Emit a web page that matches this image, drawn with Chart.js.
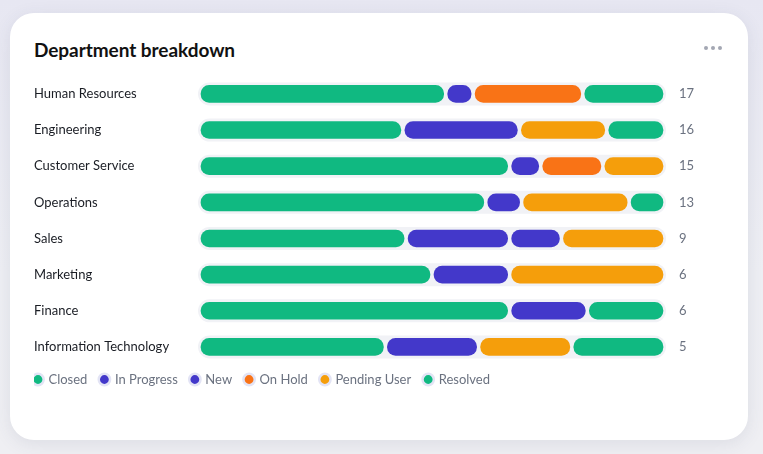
<!DOCTYPE html>
<html>
<head>
<meta charset="utf-8">
<script src="https://cdn.jsdelivr.net/npm/chart.js@4"></script>
<style>
  html, body { margin: 0; padding: 0; }
  body {
    width: 763px; height: 454px; overflow: hidden;
    background: linear-gradient(180deg, #e7e7f2 0%, #eeeff4 60%, #efeff3 100%);
    font-family: Lato, "Open Sans", sans-serif;
  }
  .card {
    position: absolute; left: 10px; top: 13px; width: 738px; height: 427px;
    background: #fff; border-radius: 24px;
    box-shadow: 0 4px 18px rgba(60, 64, 100, 0.10);
  }
  .title {
    position: absolute; left: 24px; top: 25px;
    font-size: 19px; font-weight: 700; color: #111111; letter-spacing: -0.05px;
  }
  .menu { position: absolute; left: 694px; top: 29px; line-height: 4px; }
  .menu span {
    display: inline-block; width: 4px; height: 4px; border-radius: 50%;
    background: #a3a7b3; margin-right: 3px;
  }
  .wrap { position: absolute; left: 24px; top: 49px; width: 666px; height: 339px; }
</style>
</head>
<body>
<div class="card">
  <div class="title">Department breakdown</div>
  <div class="menu"><span></span><span></span><span></span></div>
  <div class="wrap"><canvas id="deptChart"></canvas></div>
</div>
<script>
  const departments = ["Human Resources", "Engineering", "Customer Service", "Operations",
    "Sales", "Marketing", "Finance", "Information Technology"];
  const closed      = [9, 7, 10, 8, 4, 3, 4, 2];
  const inProgress  = [1, 4, 1, 1, 2, 1, 1, 1];
  const newTickets  = [0, 0, 0, 0, 1, 0, 0, 0];
  const onHold      = [4, 0, 2, 0, 0, 0, 0, 0];
  const pendingUser = [0, 3, 2, 3, 2, 2, 0, 1];
  const resolved    = [3, 2, 0, 1, 0, 0, 1, 1];
  const totals      = [17, 16, 15, 13, 9, 6, 6, 5];

  const trackColor = "#f1f2f6";

  // each row is stretched to full width, so turn counts into shares
  const share = (arr) => arr.map((v, i) => (v ? (v / totals[i]) * 100 : null));

  const series = [
    { label: "Closed", data: closed, color: "#10b981" },
    { label: "In Progress", data: inProgress, color: "#4338ca" },
    { label: "New", data: newTickets, color: "#4338ca" },
    { label: "On Hold", data: onHold, color: "#f97316" },
    { label: "Pending User", data: pendingUser, color: "#f59e0b" },
    { label: "Resolved", data: resolved, color: "#10b981" },
  ];

  const trackPlugin = {
    id: "track",
    beforeDatasetsDraw(chart) {
      const { ctx, chartArea, scales } = chart;
      ctx.save();
      ctx.fillStyle = trackColor;
      departments.forEach((d, i) => {
        const y = scales.y.getPixelForValue(i);
        ctx.beginPath();
        ctx.roundRect(chartArea.left - 1, y - 11.5, chartArea.right - chartArea.left + 2, 23, 11.5);
        ctx.fill();
      });
      ctx.restore();
    },
  };

  // pull the legend back to the card's text column
  const legendShift = {
    id: "legendShift",
    afterLayout(chart) {
      chart.legend.left -= 13;
      chart.legend.right -= 13;
      chart.legend.top -= 5;
      chart.legend.bottom -= 5;
    },
  };

  const r = 20;
  new Chart(document.getElementById("deptChart").getContext("2d"), {
    type: "bar",
    data: {
      labels: departments,
      datasets: series.map((s) => ({
        label: s.label,
        data: share(s.data),
        backgroundColor: s.color,
        borderColor: trackColor,
        borderWidth: 2,
        borderSkipped: false,
        borderRadius: { topLeft: r, topRight: r, bottomLeft: r, bottomRight: r },
        barThickness: 21,
        yAxisID: "y",
      })),
    },
    options: {
      indexAxis: "y",
      responsive: true,
      maintainAspectRatio: false,
      animation: false,
      layout: { padding: { top: 1, left: 0, right: 0, bottom: 0 } },
      scales: {
        x: { stacked: true, min: 0, max: 100, display: false },
        y: {
          stacked: true,
          grid: { display: false },
          border: { display: false },
          ticks: {
            crossAlign: "far",
            color: "#1a1d24",
            font: { family: "Lato", size: 13 },
          },
          afterFit(scale) { scale.width = 165; },
        },
        y2: {
          type: "category",
          position: "right",
          labels: totals.map(String),
          offset: true,
          grid: { display: false },
          border: { display: false },
          ticks: {
            padding: 6,
            color: "#6b7280",
            font: { family: "Lato", size: 13 },
          },
          afterFit(scale) { scale.width = 35; },
        },
      },
      plugins: {
        legend: {
          position: "bottom",
          align: "start",
          labels: {
            usePointStyle: true,
            pointStyle: "circle",
            boxWidth: 8,
            boxHeight: 8,
            padding: 13,
            color: "#6b7280",
            font: { family: "Lato", size: 13 },
            generateLabels(chart) {
              const items = Chart.defaults.plugins.legend.labels.generateLabels(chart);
              items.forEach((it) => { it.strokeStyle = "#e3e4f5"; it.lineWidth = 2.5; });
              return items;
            },
          },
        },
        tooltip: {
          callbacks: {
            label: (c) => c.dataset.label + ": " + series[c.datasetIndex].data[c.dataIndex],
          },
        },
      },
    },
    plugins: [trackPlugin, legendShift],
  });
</script>
</body>
</html>
